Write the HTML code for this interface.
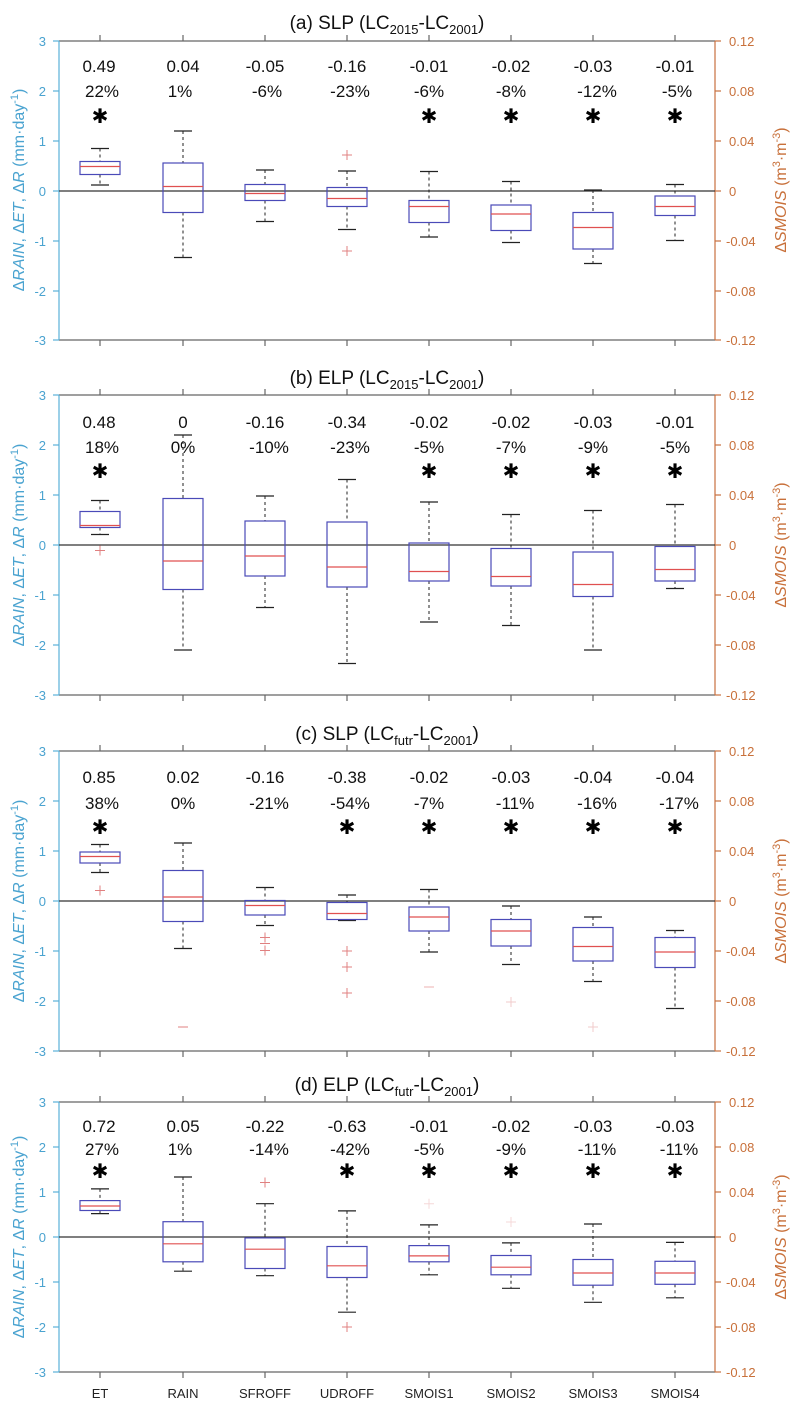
<!DOCTYPE html>
<html><head><meta charset="utf-8"><style>
html,body{margin:0;padding:0;background:#fff}
svg{display:block;font-family:"Liberation Sans",Arial,sans-serif}
.w{stroke:#222;stroke-width:1;stroke-dasharray:3,3}
.c{stroke:#222;stroke-width:1.2}
.b{fill:none;stroke:#4a4ab8;stroke-width:1.2}
.m{stroke:#e05050;stroke-width:1.2}
.o{stroke:#e08080;stroke-width:1}
.v{font-size:17px;fill:#111;text-anchor:middle}
.s{font-size:20px;fill:#000;text-anchor:middle;font-family:"DejaVu Sans",sans-serif;font-weight:bold}
.lt{font-size:13px;fill:#4aa3d0;text-anchor:end}
.rt{font-size:13px;fill:#c8703a}
.t{font-size:19px;fill:#111;text-anchor:middle}
.ax{stroke:#666;stroke-width:1.2}
.la{stroke:#5ab0d8;stroke-width:1.2}
.ra{stroke:#c87040;stroke-width:1.2}
.yl{font-size:16px;fill:#4aa3d0;text-anchor:middle}
.yr{font-size:16px;fill:#c8703a;text-anchor:middle}
.xl{font-size:13px;fill:#222;text-anchor:middle}
</style></head><body>
<svg width="800" height="1420" viewBox="0 0 800 1420" xmlns="http://www.w3.org/2000/svg">

<!-- ============ PANEL A ============ -->
<g>
<text class="t" x="387" y="29">(a) SLP (LC<tspan font-size="13" dy="5">2015</tspan><tspan dy="-5">-LC</tspan><tspan font-size="13" dy="5">2001</tspan><tspan dy="-5">)</tspan></text>
<line class="ax" x1="59" y1="41" x2="715" y2="41"/><line class="ax" x1="59" y1="340" x2="715" y2="340"/>
<line class="la" x1="59" y1="41" x2="59" y2="340"/><line class="ra" x1="715" y1="41" x2="715" y2="340"/>
<line x1="59" y1="191" x2="715" y2="191" stroke="#333" stroke-width="1.2"/>
<g class="ax"><line x1="100" y1="41" x2="100" y2="35"/><line x1="183" y1="41" x2="183" y2="35"/><line x1="265" y1="41" x2="265" y2="35"/><line x1="347" y1="41" x2="347" y2="35"/><line x1="429" y1="41" x2="429" y2="35"/><line x1="511" y1="41" x2="511" y2="35"/><line x1="593" y1="41" x2="593" y2="35"/><line x1="675" y1="41" x2="675" y2="35"/>
<line x1="100" y1="340" x2="100" y2="346"/><line x1="183" y1="340" x2="183" y2="346"/><line x1="265" y1="340" x2="265" y2="346"/><line x1="347" y1="340" x2="347" y2="346"/><line x1="429" y1="340" x2="429" y2="346"/><line x1="511" y1="340" x2="511" y2="346"/><line x1="593" y1="340" x2="593" y2="346"/><line x1="675" y1="340" x2="675" y2="346"/></g>
<g class="la"><line x1="53" y1="41" x2="59" y2="41"/><line x1="53" y1="91" x2="59" y2="91"/><line x1="53" y1="141" x2="59" y2="141"/><line x1="53" y1="191" x2="59" y2="191"/><line x1="53" y1="241" x2="59" y2="241"/><line x1="53" y1="291" x2="59" y2="291"/><line x1="53" y1="340" x2="59" y2="340"/></g>
<g class="ra"><line x1="715" y1="41" x2="721" y2="41"/><line x1="715" y1="91" x2="721" y2="91"/><line x1="715" y1="141" x2="721" y2="141"/><line x1="715" y1="191" x2="721" y2="191"/><line x1="715" y1="241" x2="721" y2="241"/><line x1="715" y1="291" x2="721" y2="291"/><line x1="715" y1="340" x2="721" y2="340"/></g>
<g class="lt"><text x="46" y="46">3</text><text x="46" y="96">2</text><text x="46" y="146">1</text><text x="46" y="196">0</text><text x="46" y="246">-1</text><text x="46" y="296">-2</text><text x="46" y="345">-3</text></g>
<g class="rt"><text x="729" y="46">0.12</text><text x="729" y="96">0.08</text><text x="729" y="146">0.04</text><text x="729" y="196">0</text><text x="726" y="246">-0.04</text><text x="726" y="296">-0.08</text><text x="726" y="345">-0.12</text></g>
<text class="yl" transform="translate(24,190) rotate(-90)">Δ<tspan font-style="italic">RAIN</tspan>, Δ<tspan font-style="italic">ET</tspan>, Δ<tspan font-style="italic">R</tspan> (mm·day<tspan font-size="11" dy="-6">-1</tspan><tspan dy="6">)</tspan></text>
<text class="yr" transform="translate(786,190) rotate(-90)">Δ<tspan font-style="italic">SMOIS</tspan> (m<tspan font-size="11" dy="-6">3</tspan><tspan dy="6">·m</tspan><tspan font-size="11" dy="-6">-3</tspan><tspan dy="6">)</tspan></text>
<g class="v"><text x="99" y="72">0.49</text><text x="183" y="72">0.04</text><text x="265" y="72">-0.05</text><text x="347" y="72">-0.16</text><text x="429" y="72">-0.01</text><text x="511" y="72">-0.02</text><text x="593" y="72">-0.03</text><text x="675" y="72">-0.01</text>
<text x="102" y="97">22%</text><text x="180" y="97">1%</text><text x="267" y="97">-6%</text><text x="350" y="97">-23%</text><text x="429" y="97">-6%</text><text x="511" y="97">-8%</text><text x="597" y="97">-12%</text><text x="677" y="97">-5%</text></g>
<g class="s"><text x="100" y="123">✱</text><text x="429" y="123">✱</text><text x="511" y="123">✱</text><text x="593" y="123">✱</text><text x="675" y="123">✱</text></g>
<!-- boxes -->
<g>
<line class="w" x1="100" y1="148.5" x2="100" y2="161.5"/><line class="w" x1="100" y1="174.5" x2="100" y2="185"/><line class="c" x1="91" y1="148.5" x2="109" y2="148.5"/><line class="c" x1="91" y1="185" x2="109" y2="185"/><rect class="b" x="80" y="161.5" width="40" height="13"/><line class="m" x1="80" y1="166.5" x2="120" y2="166.5"/>
<line class="w" x1="183" y1="131" x2="183" y2="163"/><line class="w" x1="183" y1="212.5" x2="183" y2="257.5"/><line class="c" x1="174" y1="131" x2="192" y2="131"/><line class="c" x1="174" y1="257.5" x2="192" y2="257.5"/><rect class="b" x="163" y="163" width="40" height="49.5"/><line class="m" x1="163" y1="186.5" x2="203" y2="186.5"/>
<line class="w" x1="265" y1="170" x2="265" y2="184.5"/><line class="w" x1="265" y1="200.5" x2="265" y2="221.5"/><line class="c" x1="256" y1="170" x2="274" y2="170"/><line class="c" x1="256" y1="221.5" x2="274" y2="221.5"/><rect class="b" x="245" y="184.5" width="40" height="16"/><line class="m" x1="245" y1="193.5" x2="285" y2="193.5"/>
<line class="w" x1="347" y1="171" x2="347" y2="187.5"/><line class="w" x1="347" y1="206.5" x2="347" y2="229.5"/><line class="c" x1="338" y1="171" x2="356" y2="171"/><line class="c" x1="338" y1="229.5" x2="356" y2="229.5"/><rect class="b" x="327" y="187.5" width="40" height="19"/><line class="m" x1="327" y1="198.5" x2="367" y2="198.5"/>
<path class="o" d="M342 155h10M347 150v10M342 251h10M347 246v10"/>
<line class="w" x1="429" y1="171.5" x2="429" y2="200.5"/><line class="w" x1="429" y1="222.5" x2="429" y2="237"/><line class="c" x1="420" y1="171.5" x2="438" y2="171.5"/><line class="c" x1="420" y1="237" x2="438" y2="237"/><rect class="b" x="409" y="200.5" width="40" height="22"/><line class="m" x1="409" y1="206.5" x2="449" y2="206.5"/>
<line class="w" x1="511" y1="181.5" x2="511" y2="205"/><line class="w" x1="511" y1="230.5" x2="511" y2="242.5"/><line class="c" x1="502" y1="181.5" x2="520" y2="181.5"/><line class="c" x1="502" y1="242.5" x2="520" y2="242.5"/><rect class="b" x="491" y="205" width="40" height="25.5"/><line class="m" x1="491" y1="214" x2="531" y2="214"/>
<line class="w" x1="593" y1="190" x2="593" y2="212.5"/><line class="w" x1="593" y1="249" x2="593" y2="263.5"/><line class="c" x1="584" y1="190" x2="602" y2="190"/><line class="c" x1="584" y1="263.5" x2="602" y2="263.5"/><rect class="b" x="573" y="212.5" width="40" height="36.5"/><line class="m" x1="573" y1="227.5" x2="613" y2="227.5"/>
<line class="w" x1="675" y1="184.5" x2="675" y2="196"/><line class="w" x1="675" y1="215.5" x2="675" y2="240.5"/><line class="c" x1="666" y1="184.5" x2="684" y2="184.5"/><line class="c" x1="666" y1="240.5" x2="684" y2="240.5"/><rect class="b" x="655" y="196" width="40" height="19.5"/><line class="m" x1="655" y1="206.5" x2="695" y2="206.5"/>
</g>
</g>

<!-- ============ PANEL B ============ -->
<g>
<text class="t" x="387" y="384">(b) ELP (LC<tspan font-size="13" dy="5">2015</tspan><tspan dy="-5">-LC</tspan><tspan font-size="13" dy="5">2001</tspan><tspan dy="-5">)</tspan></text>
<line class="ax" x1="59" y1="395" x2="715" y2="395"/><line class="ax" x1="59" y1="695" x2="715" y2="695"/>
<line class="la" x1="59" y1="395" x2="59" y2="695"/><line class="ra" x1="715" y1="395" x2="715" y2="695"/>
<line x1="59" y1="545" x2="715" y2="545" stroke="#333" stroke-width="1.2"/>
<g class="ax"><line x1="100" y1="395" x2="100" y2="389"/><line x1="183" y1="395" x2="183" y2="389"/><line x1="265" y1="395" x2="265" y2="389"/><line x1="347" y1="395" x2="347" y2="389"/><line x1="429" y1="395" x2="429" y2="389"/><line x1="511" y1="395" x2="511" y2="389"/><line x1="593" y1="395" x2="593" y2="389"/><line x1="675" y1="395" x2="675" y2="389"/>
<line x1="100" y1="695" x2="100" y2="701"/><line x1="183" y1="695" x2="183" y2="701"/><line x1="265" y1="695" x2="265" y2="701"/><line x1="347" y1="695" x2="347" y2="701"/><line x1="429" y1="695" x2="429" y2="701"/><line x1="511" y1="695" x2="511" y2="701"/><line x1="593" y1="695" x2="593" y2="701"/><line x1="675" y1="695" x2="675" y2="701"/></g>
<g class="la"><line x1="53" y1="395" x2="59" y2="395"/><line x1="53" y1="445" x2="59" y2="445"/><line x1="53" y1="495" x2="59" y2="495"/><line x1="53" y1="545" x2="59" y2="545"/><line x1="53" y1="595" x2="59" y2="595"/><line x1="53" y1="645" x2="59" y2="645"/><line x1="53" y1="695" x2="59" y2="695"/></g>
<g class="ra"><line x1="715" y1="395" x2="721" y2="395"/><line x1="715" y1="445" x2="721" y2="445"/><line x1="715" y1="495" x2="721" y2="495"/><line x1="715" y1="545" x2="721" y2="545"/><line x1="715" y1="595" x2="721" y2="595"/><line x1="715" y1="645" x2="721" y2="645"/><line x1="715" y1="695" x2="721" y2="695"/></g>
<g class="lt"><text x="46" y="400">3</text><text x="46" y="450">2</text><text x="46" y="500">1</text><text x="46" y="550">0</text><text x="46" y="600">-1</text><text x="46" y="650">-2</text><text x="46" y="700">-3</text></g>
<g class="rt"><text x="729" y="400">0.12</text><text x="729" y="450">0.08</text><text x="729" y="500">0.04</text><text x="729" y="550">0</text><text x="726" y="600">-0.04</text><text x="726" y="650">-0.08</text><text x="726" y="700">-0.12</text></g>
<text class="yl" transform="translate(24,545) rotate(-90)">Δ<tspan font-style="italic">RAIN</tspan>, Δ<tspan font-style="italic">ET</tspan>, Δ<tspan font-style="italic">R</tspan> (mm·day<tspan font-size="11" dy="-6">-1</tspan><tspan dy="6">)</tspan></text>
<text class="yr" transform="translate(786,545) rotate(-90)">Δ<tspan font-style="italic">SMOIS</tspan> (m<tspan font-size="11" dy="-6">3</tspan><tspan dy="6">·m</tspan><tspan font-size="11" dy="-6">-3</tspan><tspan dy="6">)</tspan></text>
<g class="v"><text x="99" y="428">0.48</text><text x="183" y="428">0</text><text x="265" y="428">-0.16</text><text x="347" y="428">-0.34</text><text x="429" y="428">-0.02</text><text x="511" y="428">-0.02</text><text x="593" y="428">-0.03</text><text x="675" y="428">-0.01</text>
<text x="102" y="453">18%</text><text x="183" y="453">0%</text><text x="269" y="453">-10%</text><text x="350" y="453">-23%</text><text x="429" y="453">-5%</text><text x="511" y="453">-7%</text><text x="593" y="453">-9%</text><text x="675" y="453">-5%</text></g>
<g class="s"><text x="100" y="478">✱</text><text x="429" y="478">✱</text><text x="511" y="478">✱</text><text x="593" y="478">✱</text><text x="675" y="478">✱</text></g>
<g>
<line class="w" x1="100" y1="500.5" x2="100" y2="511.5"/><line class="w" x1="100" y1="527.5" x2="100" y2="534.5"/><line class="c" x1="91" y1="500.5" x2="109" y2="500.5"/><line class="c" x1="91" y1="534.5" x2="109" y2="534.5"/><rect class="b" x="80" y="511.5" width="40" height="16"/><line class="m" x1="80" y1="525.5" x2="120" y2="525.5"/>
<path class="o" d="M95 550.5h10M100 545.5v10"/>
<line class="w" x1="183" y1="435" x2="183" y2="498.5"/><line class="w" x1="183" y1="589.5" x2="183" y2="650"/><line class="c" x1="174" y1="435" x2="192" y2="435"/><line class="c" x1="174" y1="650" x2="192" y2="650"/><rect class="b" x="163" y="498.5" width="40" height="91"/><line class="m" x1="163" y1="561" x2="203" y2="561"/>
<line class="w" x1="265" y1="496" x2="265" y2="521"/><line class="w" x1="265" y1="576" x2="265" y2="607.5"/><line class="c" x1="256" y1="496" x2="274" y2="496"/><line class="c" x1="256" y1="607.5" x2="274" y2="607.5"/><rect class="b" x="245" y="521" width="40" height="55"/><line class="m" x1="245" y1="556" x2="285" y2="556"/>
<line class="w" x1="347" y1="479.5" x2="347" y2="522"/><line class="w" x1="347" y1="587" x2="347" y2="663.5"/><line class="c" x1="338" y1="479.5" x2="356" y2="479.5"/><line class="c" x1="338" y1="663.5" x2="356" y2="663.5"/><rect class="b" x="327" y="522" width="40" height="65"/><line class="m" x1="327" y1="567" x2="367" y2="567"/>
<line class="w" x1="429" y1="502" x2="429" y2="543"/><line class="w" x1="429" y1="581" x2="429" y2="622"/><line class="c" x1="420" y1="502" x2="438" y2="502"/><line class="c" x1="420" y1="622" x2="438" y2="622"/><rect class="b" x="409" y="543" width="40" height="38"/><line class="m" x1="409" y1="571.5" x2="449" y2="571.5"/>
<line class="w" x1="511" y1="514.5" x2="511" y2="548.5"/><line class="w" x1="511" y1="586" x2="511" y2="625.5"/><line class="c" x1="502" y1="514.5" x2="520" y2="514.5"/><line class="c" x1="502" y1="625.5" x2="520" y2="625.5"/><rect class="b" x="491" y="548.5" width="40" height="37.5"/><line class="m" x1="491" y1="576.5" x2="531" y2="576.5"/>
<line class="w" x1="593" y1="510.5" x2="593" y2="552"/><line class="w" x1="593" y1="596.5" x2="593" y2="650"/><line class="c" x1="584" y1="510.5" x2="602" y2="510.5"/><line class="c" x1="584" y1="650" x2="602" y2="650"/><rect class="b" x="573" y="552" width="40" height="44.5"/><line class="m" x1="573" y1="584.5" x2="613" y2="584.5"/>
<line class="w" x1="675" y1="504.5" x2="675" y2="546.5"/><line class="w" x1="675" y1="581" x2="675" y2="588.5"/><line class="c" x1="666" y1="504.5" x2="684" y2="504.5"/><line class="c" x1="666" y1="588.5" x2="684" y2="588.5"/><rect class="b" x="655" y="546.5" width="40" height="34.5"/><line class="m" x1="655" y1="569.5" x2="695" y2="569.5"/>
</g>
</g>

<!-- ============ PANEL C ============ -->
<g>
<text class="t" x="387" y="740">(c) SLP (LC<tspan font-size="13" dy="5">futr</tspan><tspan dy="-5">-LC</tspan><tspan font-size="13" dy="5">2001</tspan><tspan dy="-5">)</tspan></text>
<line class="ax" x1="59" y1="751" x2="715" y2="751"/><line class="ax" x1="59" y1="1051" x2="715" y2="1051"/>
<line class="la" x1="59" y1="751" x2="59" y2="1051"/><line class="ra" x1="715" y1="751" x2="715" y2="1051"/>
<line x1="59" y1="901" x2="715" y2="901" stroke="#333" stroke-width="1.2"/>
<g class="ax"><line x1="100" y1="751" x2="100" y2="745"/><line x1="183" y1="751" x2="183" y2="745"/><line x1="265" y1="751" x2="265" y2="745"/><line x1="347" y1="751" x2="347" y2="745"/><line x1="429" y1="751" x2="429" y2="745"/><line x1="511" y1="751" x2="511" y2="745"/><line x1="593" y1="751" x2="593" y2="745"/><line x1="675" y1="751" x2="675" y2="745"/>
<line x1="100" y1="1051" x2="100" y2="1057"/><line x1="183" y1="1051" x2="183" y2="1057"/><line x1="265" y1="1051" x2="265" y2="1057"/><line x1="347" y1="1051" x2="347" y2="1057"/><line x1="429" y1="1051" x2="429" y2="1057"/><line x1="511" y1="1051" x2="511" y2="1057"/><line x1="593" y1="1051" x2="593" y2="1057"/><line x1="675" y1="1051" x2="675" y2="1057"/></g>
<g class="la"><line x1="53" y1="751" x2="59" y2="751"/><line x1="53" y1="801" x2="59" y2="801"/><line x1="53" y1="851" x2="59" y2="851"/><line x1="53" y1="901" x2="59" y2="901"/><line x1="53" y1="951" x2="59" y2="951"/><line x1="53" y1="1001" x2="59" y2="1001"/><line x1="53" y1="1051" x2="59" y2="1051"/></g>
<g class="ra"><line x1="715" y1="751" x2="721" y2="751"/><line x1="715" y1="801" x2="721" y2="801"/><line x1="715" y1="851" x2="721" y2="851"/><line x1="715" y1="901" x2="721" y2="901"/><line x1="715" y1="951" x2="721" y2="951"/><line x1="715" y1="1001" x2="721" y2="1001"/><line x1="715" y1="1051" x2="721" y2="1051"/></g>
<g class="lt"><text x="46" y="756">3</text><text x="46" y="806">2</text><text x="46" y="856">1</text><text x="46" y="906">0</text><text x="46" y="956">-1</text><text x="46" y="1006">-2</text><text x="46" y="1056">-3</text></g>
<g class="rt"><text x="729" y="756">0.12</text><text x="729" y="806">0.08</text><text x="729" y="856">0.04</text><text x="729" y="906">0</text><text x="726" y="956">-0.04</text><text x="726" y="1006">-0.08</text><text x="726" y="1056">-0.12</text></g>
<text class="yl" transform="translate(24,901) rotate(-90)">Δ<tspan font-style="italic">RAIN</tspan>, Δ<tspan font-style="italic">ET</tspan>, Δ<tspan font-style="italic">R</tspan> (mm·day<tspan font-size="11" dy="-6">-1</tspan><tspan dy="6">)</tspan></text>
<text class="yr" transform="translate(786,901) rotate(-90)">Δ<tspan font-style="italic">SMOIS</tspan> (m<tspan font-size="11" dy="-6">3</tspan><tspan dy="6">·m</tspan><tspan font-size="11" dy="-6">-3</tspan><tspan dy="6">)</tspan></text>
<g class="v"><text x="99" y="783">0.85</text><text x="183" y="783">0.02</text><text x="265" y="783">-0.16</text><text x="347" y="783">-0.38</text><text x="429" y="783">-0.02</text><text x="511" y="783">-0.03</text><text x="593" y="783">-0.04</text><text x="675" y="783">-0.04</text>
<text x="102" y="809">38%</text><text x="183" y="809">0%</text><text x="269" y="809">-21%</text><text x="350" y="809">-54%</text><text x="429" y="809">-7%</text><text x="515" y="809">-11%</text><text x="597" y="809">-16%</text><text x="679" y="809">-17%</text></g>
<g class="s"><text x="100" y="834">✱</text><text x="347" y="834">✱</text><text x="429" y="834">✱</text><text x="511" y="834">✱</text><text x="593" y="834">✱</text><text x="675" y="834">✱</text></g>
<g>
<line class="w" x1="100" y1="844.5" x2="100" y2="852"/><line class="w" x1="100" y1="863" x2="100" y2="872.5"/><line class="c" x1="91" y1="844.5" x2="109" y2="844.5"/><line class="c" x1="91" y1="872.5" x2="109" y2="872.5"/><rect class="b" x="80" y="852" width="40" height="11"/><line class="m" x1="80" y1="856.5" x2="120" y2="856.5"/>
<path class="o" d="M95 890.5h10M100 885.5v10"/>
<line class="w" x1="183" y1="843" x2="183" y2="870.5"/><line class="w" x1="183" y1="921.5" x2="183" y2="948.5"/><line class="c" x1="174" y1="843" x2="192" y2="843"/><line class="c" x1="174" y1="948.5" x2="192" y2="948.5"/><rect class="b" x="163" y="870.5" width="40" height="51"/><line class="m" x1="163" y1="897" x2="203" y2="897"/>
<path class="o" d="M178 1027h10"/>
<line class="w" x1="265" y1="887.5" x2="265" y2="900.5"/><line class="w" x1="265" y1="915" x2="265" y2="925.5"/><line class="c" x1="256" y1="887.5" x2="274" y2="887.5"/><line class="c" x1="256" y1="925.5" x2="274" y2="925.5"/><rect class="b" x="245" y="900.5" width="40" height="14.5"/><line class="m" x1="245" y1="905.5" x2="285" y2="905.5"/>
<path class="o" d="M260 937.5h10M265 932.5v10M260 943.5h10M260 950.5h10M265 945.5v10"/>
<line class="w" x1="347" y1="895" x2="347" y2="902.5"/><line class="c" x1="338" y1="895" x2="356" y2="895"/><line class="c" x1="338" y1="920.5" x2="356" y2="920.5"/><rect class="b" x="327" y="902.5" width="40" height="17"/><line class="m" x1="327" y1="913.5" x2="367" y2="913.5"/>
<path class="o" d="M342 951h10M347 946v10M342 967h10M347 962v10M342 993h10M347 988v10"/>
<line class="w" x1="429" y1="889.5" x2="429" y2="907"/><line class="w" x1="429" y1="931" x2="429" y2="952"/><line class="c" x1="420" y1="889.5" x2="438" y2="889.5"/><line class="c" x1="420" y1="952" x2="438" y2="952"/><rect class="b" x="409" y="907" width="40" height="24"/><line class="m" x1="409" y1="917" x2="449" y2="917"/>
<path class="o" d="M424 987h10" opacity="0.6"/>
<line class="w" x1="511" y1="906" x2="511" y2="919.5"/><line class="w" x1="511" y1="946" x2="511" y2="964.5"/><line class="c" x1="502" y1="906" x2="520" y2="906"/><line class="c" x1="502" y1="964.5" x2="520" y2="964.5"/><rect class="b" x="491" y="919.5" width="40" height="26.5"/><line class="m" x1="491" y1="931" x2="531" y2="931"/>
<path class="o" d="M506 1002h10M511 997v10" opacity="0.4"/>
<line class="w" x1="593" y1="917" x2="593" y2="927.5"/><line class="w" x1="593" y1="961" x2="593" y2="981.5"/><line class="c" x1="584" y1="917" x2="602" y2="917"/><line class="c" x1="584" y1="981.5" x2="602" y2="981.5"/><rect class="b" x="573" y="927.5" width="40" height="33.5"/><line class="m" x1="573" y1="946.5" x2="613" y2="946.5"/>
<path class="o" d="M588 1027h10M593 1022v10" opacity="0.4"/>
<line class="w" x1="675" y1="930.5" x2="675" y2="937.5"/><line class="w" x1="675" y1="967.5" x2="675" y2="1008.5"/><line class="c" x1="666" y1="930.5" x2="684" y2="930.5"/><line class="c" x1="666" y1="1008.5" x2="684" y2="1008.5"/><rect class="b" x="655" y="937.5" width="40" height="30"/><line class="m" x1="655" y1="952" x2="695" y2="952"/>
</g>
</g>

<!-- ============ PANEL D ============ -->
<g>
<text class="t" x="387" y="1091">(d) ELP (LC<tspan font-size="13" dy="5">futr</tspan><tspan dy="-5">-LC</tspan><tspan font-size="13" dy="5">2001</tspan><tspan dy="-5">)</tspan></text>
<line class="ax" x1="59" y1="1102" x2="715" y2="1102"/><line class="ax" x1="59" y1="1372" x2="715" y2="1372"/>
<line class="la" x1="59" y1="1102" x2="59" y2="1372"/><line class="ra" x1="715" y1="1102" x2="715" y2="1372"/>
<line x1="59" y1="1237" x2="715" y2="1237" stroke="#333" stroke-width="1.2"/>
<g class="ax"><line x1="100" y1="1102" x2="100" y2="1096"/><line x1="183" y1="1102" x2="183" y2="1096"/><line x1="265" y1="1102" x2="265" y2="1096"/><line x1="347" y1="1102" x2="347" y2="1096"/><line x1="429" y1="1102" x2="429" y2="1096"/><line x1="511" y1="1102" x2="511" y2="1096"/><line x1="593" y1="1102" x2="593" y2="1096"/><line x1="675" y1="1102" x2="675" y2="1096"/>
<line x1="100" y1="1372" x2="100" y2="1378"/><line x1="183" y1="1372" x2="183" y2="1378"/><line x1="265" y1="1372" x2="265" y2="1378"/><line x1="347" y1="1372" x2="347" y2="1378"/><line x1="429" y1="1372" x2="429" y2="1378"/><line x1="511" y1="1372" x2="511" y2="1378"/><line x1="593" y1="1372" x2="593" y2="1378"/><line x1="675" y1="1372" x2="675" y2="1378"/></g>
<g class="la"><line x1="53" y1="1102" x2="59" y2="1102"/><line x1="53" y1="1147" x2="59" y2="1147"/><line x1="53" y1="1192" x2="59" y2="1192"/><line x1="53" y1="1237" x2="59" y2="1237"/><line x1="53" y1="1282" x2="59" y2="1282"/><line x1="53" y1="1327" x2="59" y2="1327"/><line x1="53" y1="1372" x2="59" y2="1372"/></g>
<g class="ra"><line x1="715" y1="1102" x2="721" y2="1102"/><line x1="715" y1="1147" x2="721" y2="1147"/><line x1="715" y1="1192" x2="721" y2="1192"/><line x1="715" y1="1237" x2="721" y2="1237"/><line x1="715" y1="1282" x2="721" y2="1282"/><line x1="715" y1="1327" x2="721" y2="1327"/><line x1="715" y1="1372" x2="721" y2="1372"/></g>
<g class="lt"><text x="46" y="1107">3</text><text x="46" y="1152">2</text><text x="46" y="1197">1</text><text x="46" y="1242">0</text><text x="46" y="1287">-1</text><text x="46" y="1332">-2</text><text x="46" y="1377">-3</text></g>
<g class="rt"><text x="729" y="1107">0.12</text><text x="729" y="1152">0.08</text><text x="729" y="1197">0.04</text><text x="729" y="1242">0</text><text x="726" y="1287">-0.04</text><text x="726" y="1332">-0.08</text><text x="726" y="1377">-0.12</text></g>
<text class="yl" transform="translate(24,1237) rotate(-90)">Δ<tspan font-style="italic">RAIN</tspan>, Δ<tspan font-style="italic">ET</tspan>, Δ<tspan font-style="italic">R</tspan> (mm·day<tspan font-size="11" dy="-6">-1</tspan><tspan dy="6">)</tspan></text>
<text class="yr" transform="translate(786,1237) rotate(-90)">Δ<tspan font-style="italic">SMOIS</tspan> (m<tspan font-size="11" dy="-6">3</tspan><tspan dy="6">·m</tspan><tspan font-size="11" dy="-6">-3</tspan><tspan dy="6">)</tspan></text>
<g class="v"><text x="99" y="1132">0.72</text><text x="183" y="1132">0.05</text><text x="265" y="1132">-0.22</text><text x="347" y="1132">-0.63</text><text x="429" y="1132">-0.01</text><text x="511" y="1132">-0.02</text><text x="593" y="1132">-0.03</text><text x="675" y="1132">-0.03</text>
<text x="102" y="1155">27%</text><text x="180" y="1155">1%</text><text x="269" y="1155">-14%</text><text x="350" y="1155">-42%</text><text x="429" y="1155">-5%</text><text x="511" y="1155">-9%</text><text x="597" y="1155">-11%</text><text x="679" y="1155">-11%</text></g>
<g class="s"><text x="100" y="1178">✱</text><text x="347" y="1178">✱</text><text x="429" y="1178">✱</text><text x="511" y="1178">✱</text><text x="593" y="1178">✱</text><text x="675" y="1178">✱</text></g>
<g>
<line class="w" x1="100" y1="1188.9" x2="100" y2="1200.6"/><line class="w" x1="100" y1="1210.5" x2="100" y2="1213.6"/><line class="c" x1="91" y1="1188.9" x2="109" y2="1188.9"/><line class="c" x1="91" y1="1213.6" x2="109" y2="1213.6"/><rect class="b" x="80" y="1200.6" width="40" height="9.9"/><line class="m" x1="80" y1="1206" x2="120" y2="1206"/>
<line class="w" x1="183" y1="1177" x2="183" y2="1221.7"/><line class="w" x1="183" y1="1261.8" x2="183" y2="1271.2"/><line class="c" x1="174" y1="1177" x2="192" y2="1177"/><line class="c" x1="174" y1="1271.2" x2="192" y2="1271.2"/><rect class="b" x="163" y="1221.7" width="40" height="40.1"/><line class="m" x1="163" y1="1243.8" x2="203" y2="1243.8"/>
<line class="w" x1="265" y1="1203.7" x2="265" y2="1237.9"/><line class="w" x1="265" y1="1268.5" x2="265" y2="1275.7"/><line class="c" x1="256" y1="1203.7" x2="274" y2="1203.7"/><line class="c" x1="256" y1="1275.7" x2="274" y2="1275.7"/><rect class="b" x="245" y="1237.9" width="40" height="30.6"/><line class="m" x1="245" y1="1249.2" x2="285" y2="1249.2"/>
<path class="o" d="M260 1182.5h10M265 1177.5v10"/>
<line class="w" x1="347" y1="1210.9" x2="347" y2="1246.5"/><line class="w" x1="347" y1="1277.5" x2="347" y2="1312.2"/><line class="c" x1="338" y1="1210.9" x2="356" y2="1210.9"/><line class="c" x1="338" y1="1312.2" x2="356" y2="1312.2"/><rect class="b" x="327" y="1246.5" width="40" height="31"/><line class="m" x1="327" y1="1265.8" x2="367" y2="1265.8"/>
<path class="o" d="M342 1327h10M347 1322v10"/>
<line class="w" x1="429" y1="1224.9" x2="429" y2="1245.6"/><line class="w" x1="429" y1="1261.8" x2="429" y2="1274.8"/><line class="c" x1="420" y1="1224.9" x2="438" y2="1224.9"/><line class="c" x1="420" y1="1274.8" x2="438" y2="1274.8"/><rect class="b" x="409" y="1245.6" width="40" height="16.2"/><line class="m" x1="409" y1="1255.9" x2="449" y2="1255.9"/>
<path class="o" d="M424 1203.7h10M429 1198.7v10" opacity="0.3"/>
<line class="w" x1="511" y1="1242.9" x2="511" y2="1255.5"/><line class="w" x1="511" y1="1274.8" x2="511" y2="1288.3"/><line class="c" x1="502" y1="1242.9" x2="520" y2="1242.9"/><line class="c" x1="502" y1="1288.3" x2="520" y2="1288.3"/><rect class="b" x="491" y="1255.5" width="40" height="19.3"/><line class="m" x1="491" y1="1267.2" x2="531" y2="1267.2"/>
<path class="o" d="M506 1222h10M511 1217v10" opacity="0.3"/>
<line class="w" x1="593" y1="1224" x2="593" y2="1259.5"/><line class="w" x1="593" y1="1285.2" x2="593" y2="1302.3"/><line class="c" x1="584" y1="1224" x2="602" y2="1224"/><line class="c" x1="584" y1="1302.3" x2="602" y2="1302.3"/><rect class="b" x="573" y="1259.5" width="40" height="25.7"/><line class="m" x1="573" y1="1273" x2="613" y2="1273"/>
<line class="w" x1="675" y1="1242.4" x2="675" y2="1261.3"/><line class="w" x1="675" y1="1284.3" x2="675" y2="1297.8"/><line class="c" x1="666" y1="1242.4" x2="684" y2="1242.4"/><line class="c" x1="666" y1="1297.8" x2="684" y2="1297.8"/><rect class="b" x="655" y="1261.3" width="40" height="23"/><line class="m" x1="655" y1="1273" x2="695" y2="1273"/>
</g>
<g class="xl"><text x="100" y="1398">ET</text><text x="183" y="1398">RAIN</text><text x="265" y="1398">SFROFF</text><text x="347" y="1398">UDROFF</text><text x="429" y="1398">SMOIS1</text><text x="511" y="1398">SMOIS2</text><text x="593" y="1398">SMOIS3</text><text x="675" y="1398">SMOIS4</text></g>
</g>
</svg>
</body></html>
